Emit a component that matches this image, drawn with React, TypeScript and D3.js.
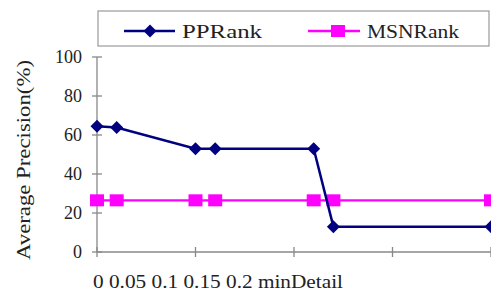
import React from "react";
import * as d3 from "d3";

const xValues = [0, 0.01, 0.05, 0.06, 0.11, 0.12, 0.2];
const ppRank = [64.5, 63.8, 53, 53, 53, 13, 13];
const msnRank = [26.5, 26.5, 26.5, 26.5, 26.5, 26.5, 26.5];
const xTicks = [0, 0.05, 0.1, 0.15, 0.2];
const xTickLabels = ["0", "0.05", "0.1", "0.15", "0.2"];
const xTitle = "minDetail";
const yTicks = [0, 20, 40, 60, 80, 100];
const seriesNames = ["PPRank", "MSNRank"];

const W = 491;
const H = 292;
const font = "'Liberation Serif', 'Times New Roman', serif";

export default function App() {
  const x = d3.scaleLinear().domain([0, 0.2]).range([97, 491]);
  const y = d3.scaleLinear().domain([0, 100]).range([252, 57]);

  const line = d3
    .line<number>()
    .x((_, i) => x(xValues[i]))
    .y((d) => y(d));

  const diamond = (cx: number, cy: number, r: number) =>
    `M${cx},${cy - r}L${cx + r},${cy}L${cx},${cy + r}L${cx - r},${cy}Z`;

  return (
    <svg
      width={W}
      height={H}
      style={{ position: "absolute", left: 0, top: 0, background: "#fff" }}
      fontFamily={font}
    >
      {/* legend */}
      <rect x={98} y={11} width={391} height={35} fill="#fff" stroke="#999" strokeWidth={1.2} />
      <line x1={124} x2={175} y1={31} y2={31} stroke="#000080" strokeWidth={2.5} />
      <path d={diamond(150, 31, 6.5)} fill="#000080" />
      <text x={182} y={38} fontSize={18} fill="#222" textLength={80} lengthAdjust="spacingAndGlyphs">
        {seriesNames[0]}
      </text>
      <line x1={308} x2={360} y1={31} y2={31} stroke="#ff00ff" strokeWidth={2.5} />
      <rect x={331} y={25} width={14} height={12} fill="#ff00ff" />
      <text x={367} y={38} fontSize={18} fill="#222" textLength={92} lengthAdjust="spacingAndGlyphs">
        {seriesNames[1]}
      </text>

      {/* axes */}
      <line x1={97} x2={97} y1={y(100)} y2={y(0)} stroke="#888" strokeWidth={1.3} />
      <line x1={97} x2={491} y1={y(0)} y2={y(0)} stroke="#888" strokeWidth={1.3} />
      {yTicks.map((t) => (
        <g key={t}>
          <line x1={92} x2={102} y1={y(t)} y2={y(t)} stroke="#888" strokeWidth={1.3} />
          <text
            x={82}
            y={y(t)}
            dy="0.35em"
            textAnchor="end"
            fontSize={18}
            fill="#222"
          >
            {t}
          </text>
        </g>
      ))}
      {xTicks.map((t) => (
        <line key={t} x1={x(t)} x2={x(t)} y1={y(0) - 5} y2={y(0) + 5} stroke="#888" strokeWidth={1.3} />
      ))}
      <text x={93} y={288} fontSize={18} fill="#222" textLength={250} lengthAdjust="spacingAndGlyphs">
        {xTickLabels.join(" ") + " " + xTitle}
      </text>
      <text
        transform="translate(30,160) rotate(-90)"
        textAnchor="middle"
        fontSize={19}
        fill="#222"
        textLength={200}
        lengthAdjust="spacingAndGlyphs"
      >
        Average Precision(%)
      </text>

      {/* series */}
      <path d={line(msnRank) || ""} fill="none" stroke="#ff00ff" strokeWidth={2.2} />
      {msnRank.map((v, i) => (
        <rect key={i} x={x(xValues[i]) - 7} y={y(v) - 6} width={14} height={12} fill="#ff00ff" />
      ))}
      <path d={line(ppRank) || ""} fill="none" stroke="#000080" strokeWidth={2.5} />
      {ppRank.map((v, i) => (
        <path key={i} d={diamond(x(xValues[i]), y(v), 6.5)} fill="#000080" />
      ))}
    </svg>
  );
}
